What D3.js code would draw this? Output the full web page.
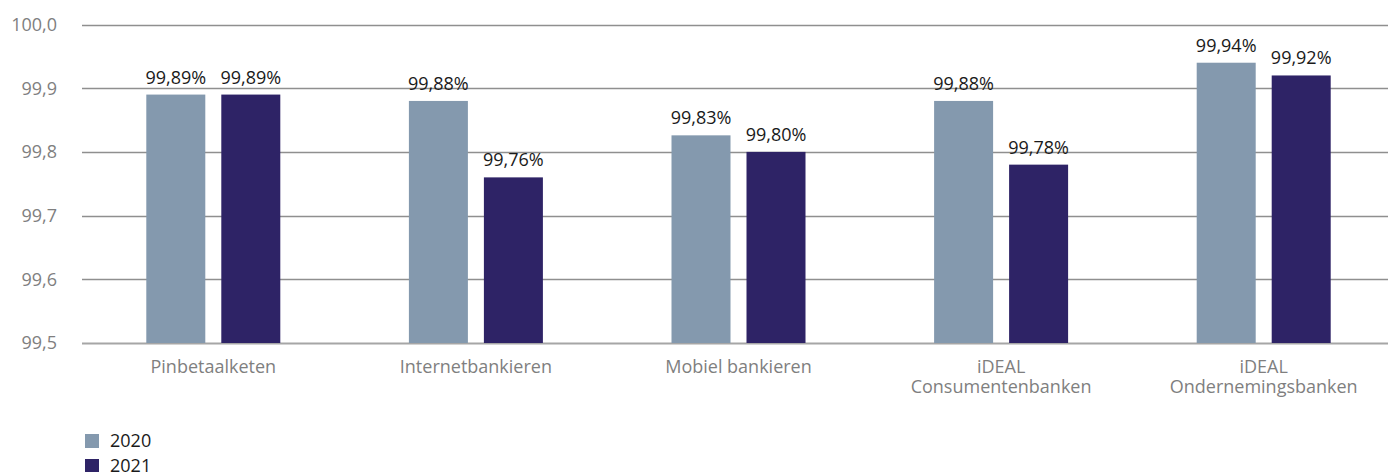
<!DOCTYPE html>
<html>
<head>
<meta charset="utf-8">
<script src="https://cdn.jsdelivr.net/npm/d3@7"></script>
<style>
  html, body { margin: 0; padding: 0; background: #fff; }
  svg { display: block; font-family: "Open Sans", sans-serif; }
</style>
</head>
<body>
<svg id="chart" width="1388" height="472"></svg>
<script>
const categories = [
  ["Pinbetaalketen"],
  ["Internetbankieren"],
  ["Mobiel bankieren"],
  ["iDEAL", "Consumentenbanken"],
  ["iDEAL", "Ondernemingsbanken"]
];
const seriesNames = ["2020", "2021"];
const values2020 = [99.89, 99.88, 99.826, 99.88, 99.94];
const values2021 = [99.89, 99.76, 99.80, 99.78, 99.92];
const yTicks = [99.5, 99.6, 99.7, 99.8, 99.9, 100.0];
const colors = ["#8499ae", "#2e2366"];

const series = [values2020, values2021];
const svg = d3.select("#chart");
const W = 1388;

const y = d3.scaleLinear().domain([99.5, 100.0]).range([343, 24.5]);
const catKeys = categories.map(c => c.join(" "));
const x0 = d3.scaleBand().domain(catKeys).range([82, 1395]).padding(0);
const x1 = d3.scaleBand().domain(seriesNames).range([0, 134]).paddingInner(16 / 75).paddingOuter(0);

const fmtTick = v => d3.format(".1f")(v).replace(".", ",");
const fmtVal = v => d3.format(".2f")(v).replace(".", ",") + "%";

// gridlines
svg.append("g").selectAll("line")
  .data(yTicks)
  .join("line")
  .attr("x1", 82).attr("x2", W)
  .attr("y1", d => Math.round(y(d)) + 0.5).attr("y2", d => Math.round(y(d)) + 0.5)
  .attr("stroke", d => d === 99.5 ? "#a6a6a6" : "#8f8f8f")
  .attr("stroke-width", d => d === 99.5 ? 2 : 1.3);

// y tick labels
svg.append("g").selectAll("text")
  .data(yTicks)
  .join("text")
  .attr("x", 57)
  .attr("y", d => y(d))
  .attr("dy", "0.35em")
  .attr("text-anchor", "end")
  .attr("font-size", 18)
  .attr("fill", "#7f7f7f")
  .text(fmtTick);

// bars
const groups = svg.append("g").selectAll("g")
  .data(catKeys)
  .join("g")
  .attr("transform", d => `translate(${x0(d) + x0.bandwidth() / 2 - 67},0)`);

groups.each(function (c, i) {
  const g = d3.select(this);
  seriesNames.forEach((s, j) => {
    const v = series[j][i];
    g.append("rect")
      .attr("x", x1(s))
      .attr("width", x1.bandwidth())
      .attr("y", y(v))
      .attr("height", y(99.5) - y(v))
      .attr("fill", colors[j]);
    g.append("text")
      .attr("x", x1(s) + x1.bandwidth() / 2)
      .attr("y", y(v) - 11)
      .attr("text-anchor", "middle")
      .attr("font-size", 18)
      .attr("fill", "#1a1a1a")
      .text(fmtVal(v));
  });
});

// category labels
svg.append("g").selectAll("text")
  .data(categories)
  .join("text")
  .attr("x", (d, i) => x0(catKeys[i]) + x0.bandwidth() / 2)
  .attr("y", 373)
  .attr("text-anchor", "middle")
  .attr("font-size", 18)
  .attr("fill", "#7f7f7f")
  .each(function (d) {
    const t = d3.select(this);
    d.forEach((line, k) => {
      t.append("tspan")
        .attr("x", t.attr("x"))
        .attr("dy", k === 0 ? 0 : 20)
        .text(line);
    });
  });

// legend
const leg = svg.append("g").selectAll("g")
  .data(seriesNames)
  .join("g")
  .attr("transform", (d, i) => `translate(85,${434 + i * 25})`);
leg.append("rect").attr("width", 14).attr("height", 14).attr("fill", (d, i) => colors[i]);
leg.append("text")
  .attr("x", 25).attr("y", 13)
  .attr("font-size", 18)
  .attr("fill", "#1a1a1a")
  .text(d => d);
</script>
</body>
</html>
